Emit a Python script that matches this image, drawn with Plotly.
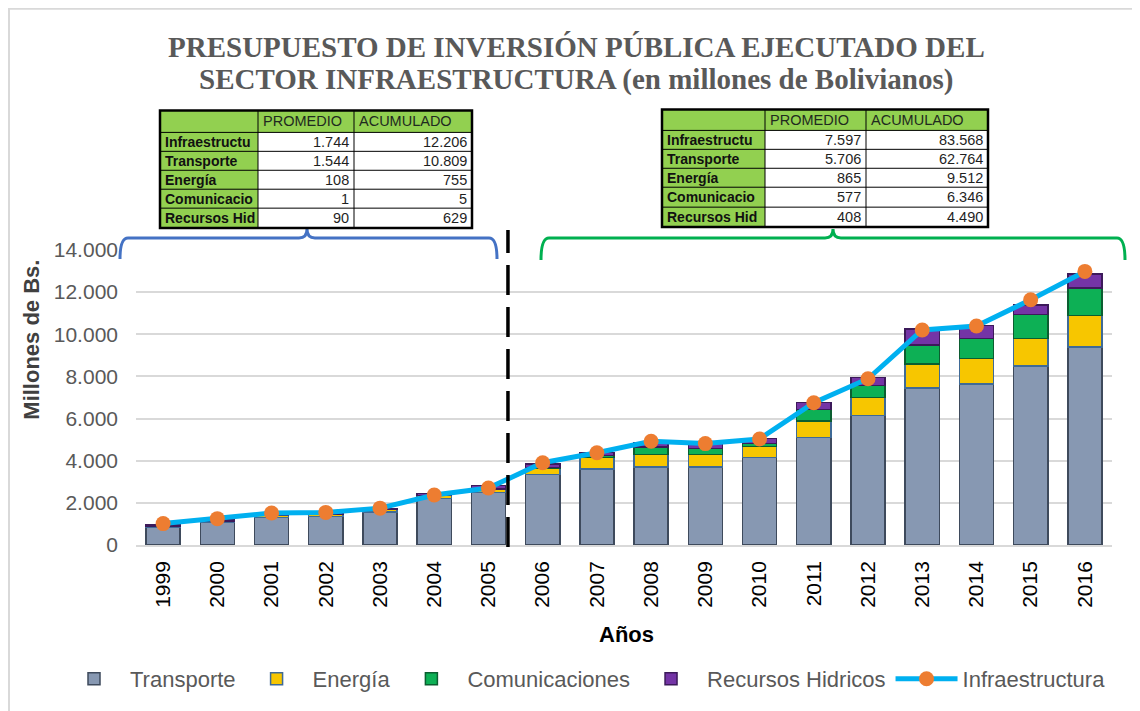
import plotly.graph_objects as go

# ---------------- DATA ----------------
years = ["1999", "2000", "2001", "2002", "2003", "2004", "2005", "2006", "2007",
         "2008", "2009", "2010", "2011", "2012", "2013", "2014", "2015", "2016"]

transporte = [830, 1070, 1310, 1350, 1570, 2200, 2480,
              3350, 3600, 3700, 3700, 4150, 5100, 6150, 7450, 7650, 8500, 9400]
energia = [60, 70, 90, 100, 110, 140, 185,
           280, 560, 600, 600, 520, 780, 860, 1150, 1200, 1300, 1500]
comunicaciones = [1, 1, 1, 1, 0, 1, 0,
                  60, 90, 350, 280, 150, 550, 560, 900, 950, 1150, 1300]
recursos_hidricos = [50, 70, 90, 80, 60, 110, 169,
                     150, 140, 220, 250, 230, 330, 370, 750, 620, 450, 650]
infraestructura = [1016, 1250, 1516, 1547, 1750, 2375, 2703,
                   3906, 4375, 4922, 4812, 5031, 6750, 7890, 10203, 10390, 11640, 12984]

y_ticks = [0, 2000, 4000, 6000, 8000, 10000, 12000, 14000]

table_rows = ["Infraestructu", "Transporte", "Energía", "Comunicacio", "Recursos Hid"]
table_headers = ["PROMEDIO", "ACUMULADO"]
t1_promedio = [1744, 1544, 108, 1, 90]
t1_acumulado = [12206, 10809, 755, 5, 629]
t2_promedio = [7597, 5706, 865, 577, 408]
t2_acumulado = [83568, 62764, 9512, 6346, 4490]

title_lines = ["<b>PRESUPUESTO DE INVERSIÓN PÚBLICA EJECUTADO DEL</b>",
               "<b>SECTOR INFRAESTRUCTURA (en millones de Bolivianos)</b>"]

# ---------------- HELPERS (page pixel -> paper) ----------------
OFF = 8                      # default body margin of the html page
FIG_W, FIG_H = 1140 - OFF, 711 - OFF
PX0, PW = 136, 976           # plot area, page pixels
PY0, PH = 546, 296


def fx(x):
    return (x - PX0) / PW


def fy(y):
    return (PY0 - y) / PH


def fmt(v):
    return f"{v:,}".replace(",", ".")


SANS = "Liberation Sans, Arial, sans-serif"

fig = go.Figure()

bar_specs = [
    ("Transporte", transporte, "#8798B2", "#3E4A5C"),
    ("Energía", energia, "#F7C600", "#3F6A96"),
    ("Comunicaciones", comunicaciones, "#0DB055", "#0B5E30"),
    ("Recursos Hidricos", recursos_hidricos, "#7434A6", "#3C1A5A"),
]
for name, vals, col, edge in bar_specs:
    fig.add_trace(go.Bar(
        x=years, y=vals, name=name,
        marker=dict(color=col, line=dict(color=edge, width=1.5)),
    ))

fig.add_trace(go.Scatter(
    x=years, y=infraestructura, name="Infraestructura",
    mode="lines+markers",
    line=dict(color="#00B0F0", width=5),
    marker=dict(color="#ED7D31", size=15, line=dict(width=0)),
))

shapes = []
annotations = []

# chart-area border
shapes.append(dict(type="rect", xref="paper", yref="paper",
                   x0=fx(9), x1=fx(1150), y0=fy(8), y1=fy(720),
                   line=dict(color="#D9D9D9", width=2), fillcolor="rgba(0,0,0,0)", layer="below"))

# dashed divider between 2005 and 2006
shapes.append(dict(type="line", xref="x", yref="paper",
                   x0=6.36, x1=6.36, y0=fy(548), y1=fy(230),
                   line=dict(color="black", width=3.5, dash="30px,12px")))


def brace(x0, x1, xc, ytop, yend, ytip, color):
    r = 8
    path = (f"M {fx(x0)},{fy(yend)} Q {fx(x0)},{fy(ytop)} {fx(x0 + r)},{fy(ytop)} "
            f"L {fx(xc - r)},{fy(ytop)} Q {fx(xc)},{fy(ytop)} {fx(xc)},{fy(ytip)} "
            f"Q {fx(xc)},{fy(ytop)} {fx(xc + r)},{fy(ytop)} "
            f"L {fx(x1 - r)},{fy(ytop)} Q {fx(x1)},{fy(ytop)} {fx(x1)},{fy(yend)}")
    return dict(type="path", xref="paper", yref="paper", path=path,
                line=dict(color=color, width=3))


shapes.append(brace(120, 497, 307, 238, 259, 229, "#4472C4"))
shapes.append(brace(541, 1125, 833, 238, 260, 229, "#00B050"))


def table(xs, ys, prom, acum):
    shapes.append(dict(type="rect", xref="paper", yref="paper",
                       x0=fx(xs[0]), x1=fx(xs[3]), y0=fy(ys[0]), y1=fy(ys[6]),
                       fillcolor="white", line=dict(width=0)))
    shapes.append(dict(type="rect", xref="paper", yref="paper",
                       x0=fx(xs[0]), x1=fx(xs[3]), y0=fy(ys[0]), y1=fy(ys[1]),
                       fillcolor="#92D050", line=dict(width=0)))
    shapes.append(dict(type="rect", xref="paper", yref="paper",
                       x0=fx(xs[0]), x1=fx(xs[1]), y0=fy(ys[0]), y1=fy(ys[6]),
                       fillcolor="#92D050", line=dict(width=0)))
    for yy in ys[1:-1]:
        shapes.append(dict(type="line", xref="paper", yref="paper",
                           x0=fx(xs[0]), x1=fx(xs[3]), y0=fy(yy), y1=fy(yy),
                           line=dict(color="black", width=1)))
    for xx in xs[1:-1]:
        shapes.append(dict(type="line", xref="paper", yref="paper",
                           x0=fx(xx), x1=fx(xx), y0=fy(ys[0]), y1=fy(ys[6]),
                           line=dict(color="black", width=1)))
    shapes.append(dict(type="rect", xref="paper", yref="paper",
                       x0=fx(xs[0]), x1=fx(xs[3]), y0=fy(ys[0]), y1=fy(ys[6]),
                       fillcolor="rgba(0,0,0,0)", line=dict(color="black", width=2.5)))
    for j, h in enumerate(table_headers):
        annotations.append(dict(xref="paper", yref="paper",
                                x=fx(xs[j + 1] + 3), y=fy((ys[0] + ys[1]) / 2),
                                text=h, showarrow=False, xanchor="left", yanchor="middle",
                                font=dict(family=SANS, size=14.5, color="#1F2A1F")))
    for i, rname in enumerate(table_rows):
        yc = fy((ys[i + 1] + ys[i + 2]) / 2)
        annotations.append(dict(xref="paper", yref="paper", x=fx(xs[0] + 3), y=yc,
                                text=f"<b>{rname}</b>", showarrow=False,
                                xanchor="left", yanchor="middle",
                                font=dict(family=SANS, size=14, color="#111111")))
        annotations.append(dict(xref="paper", yref="paper", x=fx(xs[2] - 3), y=yc,
                                text=fmt(prom[i]), showarrow=False,
                                xanchor="right", yanchor="middle",
                                font=dict(family=SANS, size=14.5, color="#1F1F1F")))
        annotations.append(dict(xref="paper", yref="paper", x=fx(xs[3] - 3), y=yc,
                                text=fmt(acum[i]), showarrow=False,
                                xanchor="right", yanchor="middle",
                                font=dict(family=SANS, size=14.5, color="#1F1F1F")))


table([160, 258, 354, 472], [110, 132, 151, 170, 189, 208, 228], t1_promedio, t1_acumulado)
table([662, 765, 866, 988], [109, 130, 149, 168, 187, 207, 227], t2_promedio, t2_acumulado)

# title (two lines)
for line_text, ly in zip(title_lines, [46, 79]):
    annotations.append(dict(xref="paper", yref="paper", x=fx(576), y=fy(ly),
                            text=line_text, showarrow=False,
                            xanchor="center", yanchor="middle",
                            font=dict(family="Liberation Serif, Times New Roman, serif",
                                      size=29, color="#595959")))
# axis titles
annotations.append(dict(xref="paper", yref="paper", x=fx(32), y=fy(340),
                        text="<b>Millones de Bs.</b>", textangle=-90, showarrow=False,
                        xanchor="center", yanchor="middle",
                        font=dict(family=SANS, size=22, color="#404040")))
annotations.append(dict(xref="paper", yref="paper", x=fx(626), y=fy(636),
                        text="<b>Años</b>", showarrow=False,
                        xanchor="center", yanchor="middle",
                        font=dict(family=SANS, size=22, color="#000000")))

fig.update_layout(
    width=FIG_W, height=FIG_H,
    margin=dict(l=PX0 - OFF, r=FIG_W - (PX0 - OFF) - PW, t=PY0 - PH - OFF, b=FIG_H - (PY0 - OFF)),
    paper_bgcolor="white", plot_bgcolor="white",
    barmode="stack", bargap=0.37,
    separators=",.",
    showlegend=True,
    legend=dict(orientation="h", traceorder="normal",
                x=fx(58), y=fy(679), xanchor="left", yanchor="middle",
                font=dict(family=SANS, size=22, color="#595959"),
                itemwidth=62),
    shapes=shapes,
    annotations=annotations,
)

fig.update_xaxes(type="category", tickangle=-90, range=[-0.5, 17.5], automargin=False,
                 tickfont=dict(family=SANS, size=21, color="#000000"),
                 showline=True, linecolor="#D9D9D9", linewidth=1.5,
                 ticks="", ticklabelstandoff=6)
fig.update_yaxes(range=[0, 14000], tickvals=y_ticks, tickformat=",d", automargin=False,
                 tickfont=dict(family=SANS, size=21, color="#595959"),
                 showgrid=True, gridcolor="#D9D9D9", gridwidth=1.5,
                 zeroline=False, showline=False, ticks="", ticklabelstandoff=17)

fig.write_html("out.html")
